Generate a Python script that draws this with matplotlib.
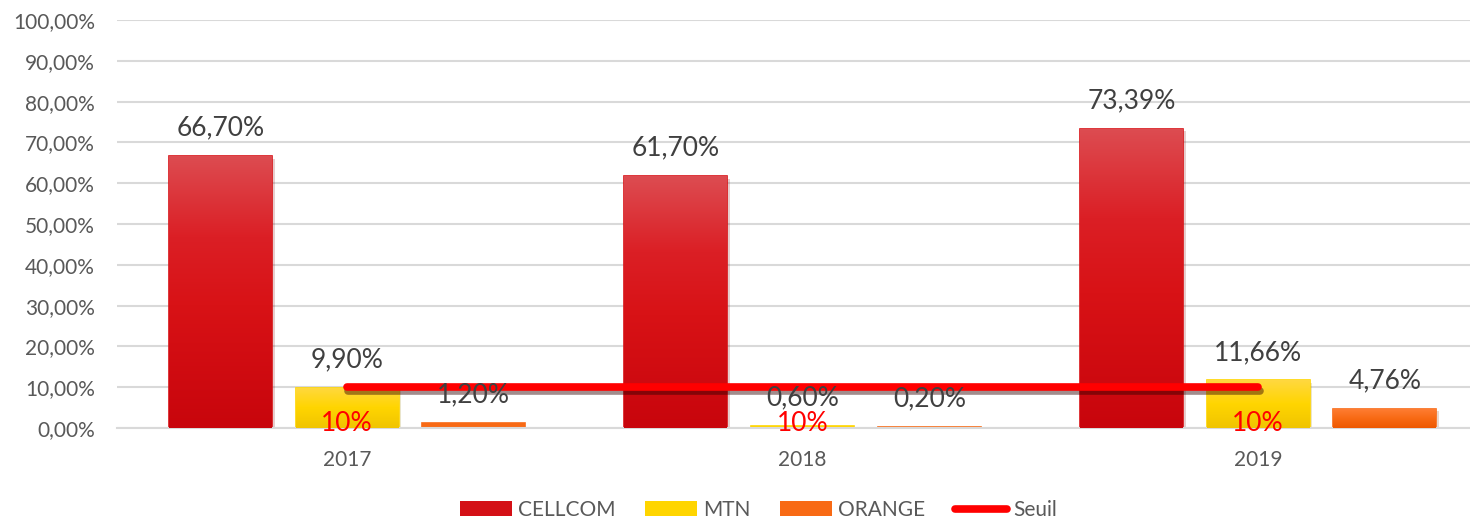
import matplotlib.pyplot as plt
import matplotlib.patheffects as pe
from matplotlib.colors import LinearSegmentedColormap
from matplotlib.patches import Patch
from matplotlib.lines import Line2D
import numpy as np

plt.rcParams['font.family'] = ['Lato', 'DejaVu Sans']

years = ["2017", "2018", "2019"]
cellcom = [66.70, 61.70, 73.39]
mtn = [9.90, 0.60, 11.66]
orange = [1.20, 0.20, 4.76]
seuil = [10, 10, 10]
series_names = ["CELLCOM", "MTN", "ORANGE", "Seuil"]

# gradient colours, bottom -> top
grads = {
    "CELLCOM": [(0, "#c8050c"), (0.45, "#d81216"), (0.7, "#db1f25"), (1, "#dd4c51")],
    "MTN": [(0, "#f0c400"), (0.5, "#ffd500"), (1, "#ffd840")],
    "ORANGE": [(0, "#ee5800"), (0.5, "#f86a15"), (1, "#ff7e35")],
}

fig = plt.figure(figsize=(14.7, 5.21), dpi=100)
ax = fig.add_axes([117 / 1470, 93 / 521, 1 - 117 / 1470, 408 / 521])

x = np.arange(len(years))
w = 0.226
off = 0.278

def fmt(v):
    return "{:.2f}%".format(v).replace(".", ",")

for data, name, dx in [(cellcom, "CELLCOM", -off), (mtn, "MTN", 0), (orange, "ORANGE", off)]:
    stops = grads[name]
    cmap = LinearSegmentedColormap.from_list(name, stops)
    bars = ax.bar(x + dx, data, w, color=stops[1][1], edgecolor=stops[1][1], lw=1.2, zorder=2)
    for b, v in zip(bars, data):
        x0 = b.get_x()
        if v > 2:
            b.set_path_effects([pe.SimplePatchShadow(offset=(2, -2), alpha=0.2, rho=0.6), pe.Normal()])
            grad = np.linspace(0, 1, 256).reshape(-1, 1)
            im = ax.imshow(grad, cmap=cmap, origin="lower", aspect="auto",
                           extent=[x0, x0 + b.get_width(), 0, v], zorder=3)
            im.set_clip_path(b)
        ax.annotate(fmt(v), (b.get_x() + b.get_width() / 2, v), xytext=(0, 28),
                    textcoords="offset pixels", ha="center", va="center",
                    fontsize=19, color="#404040", zorder=6)

ax.plot(x, seuil, color="#ff0000", lw=5.5, solid_capstyle="round", zorder=5,
        path_effects=[pe.SimpleLineShadow(offset=(1, -2.5), alpha=0.45, shadow_color="#300000"), pe.Normal()])
for xi, s in zip(x, seuil):
    ax.text(xi, 1.0, "{}%".format(s), ha="center", va="center", fontsize=19,
            color="#ff0000", zorder=7)

ax.set_xlim(-0.505, 2.465)
ax.set_ylim(0, 100)
ax.set_yticks(np.arange(0, 101, 10))
ax.set_yticklabels([fmt(v) for v in np.arange(0, 101, 10)])
ax.set_xticks(x)
ax.set_xticklabels(years)
ax.yaxis.grid(True, color="#d9d9d9", lw=1.5, zorder=0)
ax.set_axisbelow(True)
for s in ["top", "right", "left"]:
    ax.spines[s].set_visible(False)
ax.spines["bottom"].set_color("#d9d9d9")
ax.spines["bottom"].set_linewidth(1.5)
ax.tick_params(axis="both", length=0, colors="#595959", labelsize=15)
ax.tick_params(axis="y", pad=16)
ax.tick_params(axis="x", pad=16)

handles = [Patch(facecolor="#d41016"), Patch(facecolor="#ffd500"),
           Patch(facecolor="#f86a15"),
           Line2D([0], [0], color="#ff0000", lw=5.5, solid_capstyle="round")]
leg = fig.legend(handles, series_names, loc="center", bbox_to_anchor=(0.516, 0.021),
                 ncol=4, frameon=False, fontsize=15, handlelength=2.5, handleheight=0.7,
                 columnspacing=1.4, handletextpad=0.3)
for t in leg.get_texts():
    t.set_color("#595959")

fig.savefig("out.png", dpi=100)
